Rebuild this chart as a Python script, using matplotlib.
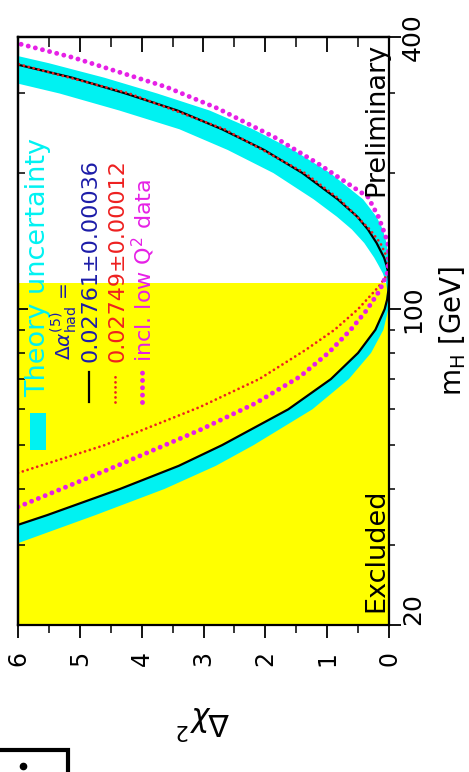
# -*- coding: utf-8 -*-

"""
Blue-band plot: Delta chi^2 of the electroweak fit versus the Higgs mass,
drawn turned on its side (m_H running upwards, Delta chi^2 growing leftwards).
"""

import matplotlib.pyplot as plt
from matplotlib.lines import Line2D
from matplotlib.patches import Rectangle
from matplotlib.ticker import FixedLocator, MultipleLocator, NullFormatter

# Higgs mass grid [GeV] for the central fit and its theory band
mh_grid = [20, 25, 30, 35, 40, 45, 50, 60, 70, 80, 90, 100, 105, 110, 115,
           120, 125, 130, 140, 150, 160, 175, 200, 225, 250, 275, 300, 325,
           350, 375, 400]
chi2_central = [11.0, 8.9, 7.0, 5.53, 4.35, 3.40, 2.70, 1.63, 0.94, 0.50,
                0.22, 0.07, 0.03, 0.01, 0.0, 0.01, 0.04, 0.08, 0.20, 0.34,
                0.51, 0.83, 1.40, 2.02, 2.70, 3.42, 4.26, 5.12, 6.10, 7.0,
                7.9]
band_low = [10.2, 7.9, 6.1, 4.75, 3.63, 2.80, 2.19, 1.24, 0.65, 0.29, 0.09,
            0.01, 0.0, 0.0, 0.0, 0.0, 0.0, 0.005, 0.04, 0.10, 0.20, 0.42,
            0.95, 1.55, 2.2, 2.9, 3.75, 4.6, 5.5, 6.45, 7.3]
band_high = [11.0, 8.9, 7.0, 5.53, 4.35, 3.40, 2.70, 1.63, 0.94, 0.50, 0.22,
             0.08, 0.04, 0.03, 0.05, 0.10, 0.17, 0.24, 0.40, 0.60, 0.84, 1.22,
             1.87, 2.61, 3.39, 4.36, 5.33, 6.40, 7.30, 8.30, 9.20]

# alternative hadronic vacuum polarisation value
mh_alt = [43.4, 50, 60.7, 70, 81.2, 90, 100, 106, 112, 118, 124, 130, 140,
          150, 175, 200, 250, 300, 350, 400]
chi2_alt = [6.0, 4.6, 3.06, 2.1, 1.35, 0.88, 0.5, 0.33, 0.17, 0.05, 0.0,
            0.03, 0.14, 0.31, 0.8, 1.36, 2.66, 4.2, 6.05, 7.8]

# fit including the low-Q^2 data
mh_lowq2 = [36.5, 45, 54, 62, 70.9, 80, 90, 99.5, 110, 120, 130, 140, 147,
            160, 177, 210, 240, 278, 310, 335, 360, 387, 400]
chi2_lowq2 = [6.0, 4.4, 3.06, 2.15, 1.44, 0.98, 0.62, 0.36, 0.15, 0.03, 0.0,
              0.02, 0.07, 0.17, 0.34, 1.15, 1.85, 2.77, 3.6, 4.38, 5.1, 6.0,
              6.4]

mh_limit = 114.4
mh_range = (20, 400)
chi2_range = (6, 0)

CYAN = "#00f2f2"
YELLOW = "#ffff00"
BLUE = "#1c1ca8"
RED = "#ee2020"
MAGENTA = "#e620e6"

plt.rcParams["font.family"] = ["DejaVu Sans"]
plt.rcParams["mathtext.fontset"] = "dejavusans"

fig = plt.figure(figsize=(4.69, 7.72), dpi=100)
ax = fig.add_axes([18 / 469, 147 / 772, 371 / 469, 588 / 772])

ax.set_yscale("log")
ax.set_xlim(*chi2_range)
ax.set_ylim(*mh_range)

# excluded region from direct searches
ax.axhspan(mh_range[0], mh_limit, color=YELLOW, lw=0, zorder=0)

ax.fill_betweenx(mh_grid, band_low, band_high, color=CYAN, lw=0, zorder=1)
ax.plot(chi2_central, mh_grid, color="black", lw=1.6, zorder=3)
ax.plot(chi2_alt, mh_alt, color=RED, lw=2.0, ls=(0, (0.01, 1.8)),
        dash_capstyle="round", zorder=4)
ax.plot(chi2_lowq2, mh_lowq2, color=MAGENTA, lw=3.5, ls=(0, (0.01, 1.5)),
        dash_capstyle="round", zorder=4)

# axes frame and ticks
for spine in ax.spines.values():
    spine.set_linewidth(1.6)
    spine.set_zorder(6)

ax.xaxis.set_major_locator(MultipleLocator(1))
ax.xaxis.set_minor_locator(MultipleLocator(0.5))
ax.tick_params(axis="x", which="major", direction="out", length=9.5,
               width=1.3, labelsize=17, labelrotation=90, pad=9, top=False)
ax.tick_params(axis="x", which="minor", direction="out", length=5.5,
               width=1.1, top=False)

mh_major = [20, 100, 400]
mh_minor = [30, 40, 50, 60, 70, 80, 90, 200, 300]
ax.yaxis.tick_right()
ax.yaxis.set_major_locator(FixedLocator(mh_major))
ax.yaxis.set_minor_locator(FixedLocator(mh_minor))
ax.yaxis.set_minor_formatter(NullFormatter())
ax.set_yticklabels([str(v) for v in mh_major])
ax.tick_params(axis="y", which="major", direction="out", length=8.5,
               width=1.3, labelsize=18, pad=0, left=False)
ax.tick_params(axis="y", which="minor", direction="out", length=4,
               width=1.1, left=False)
for label in ax.get_yticklabels():
    label.set_rotation(90)
    label.set_va("center")
ax.get_yticklabels()[0].set_va("bottom")

top = ax.secondary_xaxis("top")
top.xaxis.set_major_locator(MultipleLocator(1))
top.xaxis.set_minor_locator(MultipleLocator(0.5))
top.tick_params(which="major", direction="in", length=11, width=1.3,
                labeltop=False)
top.tick_params(which="minor", direction="in", length=7, width=1.1)
top.spines["top"].set_linewidth(1.6)

left = ax.secondary_yaxis("left")
left.yaxis.set_major_locator(FixedLocator(mh_major))
left.yaxis.set_minor_locator(FixedLocator(mh_minor))
left.yaxis.set_major_formatter(NullFormatter())
left.yaxis.set_minor_formatter(NullFormatter())
left.tick_params(which="major", direction="in", length=7, width=1.3)
left.tick_params(which="minor", direction="in", length=5, width=1.1)
left.spines["left"].set_linewidth(1.6)

ax.set_xlabel(r"$\Delta\chi^2$", fontsize=22, rotation=180, labelpad=26)
ax.yaxis.set_label_position("right")
ax.set_ylabel(r"m$_\mathrm{H}$ [GeV]", fontsize=20, rotation=90,
              labelpad=9)

# labels inside the frame
ax.text(0.965, 0.99, "Preliminary", transform=ax.transAxes, rotation=90,
        ha="center", va="top", fontsize=19.5, zorder=7)
ax.text(0.965, 0.022, "Excluded", transform=ax.transAxes, rotation=90,
        ha="center", va="bottom", fontsize=19.5, zorder=7)

# legend block
ax.add_patch(Rectangle((0.032, 0.298), 0.044, 0.063, transform=ax.transAxes,
                       facecolor=CYAN, edgecolor="none", zorder=5))
ax.text(0.053, 0.388, "Theory uncertainty", transform=ax.transAxes,
        rotation=90, ha="center", va="bottom", fontsize=19.5, color=CYAN,
        zorder=7)
ax.text(0.122, 0.451, r"$\Delta\alpha^{(5)}_{\mathrm{had}}$ =",
        transform=ax.transAxes, rotation=90, ha="center", va="bottom",
        fontsize=14.5, color=BLUE, zorder=7)

legend_rows = [
    ("0.02761\u00b10.00036", BLUE,
     dict(color="black", lw=1.6)),
    ("0.02749\u00b10.00012", RED,
     dict(color=RED, lw=2.0, ls=(0, (0.01, 1.8)), dash_capstyle="round")),
    (r"incl. low Q$^2$ data", MAGENTA,
     dict(color=MAGENTA, lw=3.5, ls=(0, (0.01, 1.5)), dash_capstyle="round")),
]
row_x = [0.191, 0.262, 0.333]
for (text, color, style), x in zip(legend_rows, row_x):
    ax.add_line(Line2D([x, x], [0.379, 0.430], transform=ax.transAxes,
                       zorder=7, **style))
    ax.text(x + 0.005, 0.447, text, transform=ax.transAxes, rotation=90,
            ha="center", va="bottom", fontsize=16, color=color, zorder=7)

# small framed box in the lower corner
fig.add_artist(Rectangle((-0.02, -0.02), 68 / 469 + 0.02, 22 / 772 + 0.02,
                         transform=fig.transFigure, facecolor="white",
                         edgecolor="black", lw=3))
fig.add_artist(Line2D([23 / 469], [6 / 772], transform=fig.transFigure,
                      marker="o", ms=4.5, color="black", lw=0))

fig.savefig("out.png", dpi=100)
plt.close(fig)
print("Figure saved to out.png")
